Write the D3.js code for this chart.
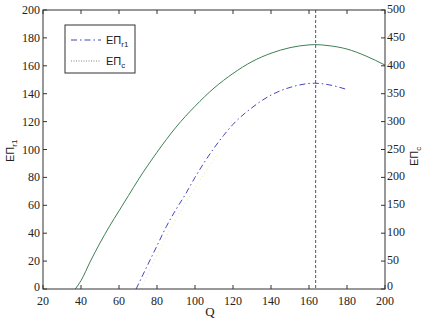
<!DOCTYPE html>
<html><head><meta charset="utf-8">
<script src="https://cdn.jsdelivr.net/npm/d3@7"></script>
<style>body{margin:0;background:#fff}</style>
</head><body>
<script>
const qC = [37,40,45,50,55,60,65,70,80,90,100,110,120,130,140,150,160,163,170,180,190,200];
const epC = [0,6,20,33,45,56,67,78,98,116,131,144,154.5,163,169,173,175,175.2,174.5,172,167,160.5];
const qR = [69,75,80,85,90,95,100,105,110,115,120,130,140,150,160,163,170,180];
const epR = [0,17,31,45,57,68,80,91,101,110,118,130,139,144.5,147.3,147.5,146.5,143];
const qY = [70,75,80,85,90,95,100,105,110];
const epY = [0,15,29,42,54,65,76,86,96];
const qStar = 163.5;
const xTicks = [20,40,60,80,100,120,140,160,180,200];
const yTicksL = [0,20,40,60,80,100,120,140,160,180,200];
const yTicksR = [0,50,100,150,200,250,300,350,400,450,500];

const W=425,H=319, L=43, R=385, T=10, B=289;
const svg=d3.select("body").append("svg").attr("width",W).attr("height",H);
const x=d3.scaleLinear().domain([20,200]).range([L,R]);
const y=d3.scaleLinear().domain([0,200]).range([B,T]);
const y2=d3.scaleLinear().domain([0,500]).range([B,T]);
const axc="#333";
const SERIF="Liberation Serif", SANS="Liberation Sans";

const g=svg.append("g");
g.append("path").datum(d3.zip(qY,epY)).attr("d",d3.line().x(d=>x(d[0])).y(d=>y(d[1]))).attr("fill","none")
 .attr("stroke","#f0ec90").attr("stroke-width",1).attr("stroke-dasharray","1,3").attr("transform","translate(3,0)");
g.append("path").datum(d3.zip(qC,epC)).attr("d",d3.line().curve(d3.curveMonotoneX).x(d=>x(d[0])).y(d=>y(d[1])))
 .attr("fill","none").attr("stroke","#3f7f55").attr("stroke-width",1);
g.append("path").datum(d3.zip(qR,epR)).attr("d",d3.line().curve(d3.curveMonotoneX).x(d=>x(d[0])).y(d=>y(d[1])))
 .attr("fill","none").attr("stroke","#4646b8").attr("stroke-width",1).attr("stroke-dasharray","6,3,1.5,3");
g.append("line").attr("x1",x(qStar)).attr("x2",x(qStar)).attr("y1",T).attr("y2",B)
 .attr("stroke","#555566").attr("stroke-width",1).attr("stroke-dasharray","3,2");

const ax=svg.append("g");
ax.append("rect").attr("x",L).attr("y",T).attr("width",R-L).attr("height",B-T).attr("fill","none").attr("stroke",axc).attr("stroke-width",1);
const ts=4;
ax.selectAll(".xb").data(xTicks).join("line").attr("x1",d=>x(d)).attr("x2",d=>x(d)).attr("y1",B).attr("y2",B-ts).attr("stroke",axc);
ax.selectAll(".xt").data(xTicks).join("line").attr("x1",d=>x(d)).attr("x2",d=>x(d)).attr("y1",T).attr("y2",T+ts).attr("stroke",axc);
ax.selectAll(".yl").data(yTicksL).join("line").attr("x1",L).attr("x2",L+ts).attr("y1",d=>y(d)).attr("y2",d=>y(d)).attr("stroke",axc);
ax.selectAll(".yr").data(yTicksR).join("line").attr("x1",R).attr("x2",R-ts).attr("y1",d=>y2(d)).attr("y2",d=>y2(d)).attr("stroke",axc);
ax.selectAll(".xl").data(xTicks).join("text").style("font-family",SERIF).style("font-size","12px")
 .attr("x",d=>x(d)).attr("y",B+16).attr("text-anchor","middle").attr("fill","#222").text(d=>d);
ax.selectAll(".yll").data(yTicksL).join("text").style("font-family",SERIF).style("font-size","12px")
 .attr("x",L-3).attr("y",d=>y(d)+(d===0?2:4)).attr("text-anchor","end").attr("fill","#222").text(d=>d);
ax.selectAll(".yrl").data(yTicksR).join("text").style("font-family",SERIF).style("font-size","12px")
 .attr("x",R+2).attr("y",d=>y2(d)+(d===0?1:3)).attr("text-anchor","start").attr("fill","#222").text(d=>d);
svg.append("text").style("font-family",SERIF).style("font-size","13px").attr("x",210).attr("y",316).attr("text-anchor","middle").attr("fill","#222").text("Q");

function epLabel(sel,sub){
  const t=sel.append("text").style("font-family",SANS).style("font-size","11px").attr("fill","#222");
  t.append("tspan").text("EΠ");
  t.append("tspan").style("font-size","8px").attr("dy",3).text(sub);
  return t;
}
epLabel(svg.append("g").attr("transform","translate(14,162) rotate(-90)"),"r1");
epLabel(svg.append("g").attr("transform","translate(418,166) rotate(-90)"),"c");

const lg=svg.append("g");
lg.append("rect").attr("x",65).attr("y",25).attr("width",70).attr("height",48).attr("fill","#fff").attr("stroke",axc);
lg.append("line").attr("x1",71).attr("x2",101).attr("y1",40).attr("y2",40).attr("stroke","#4646b8").attr("stroke-dasharray","6,3,1.5,3");
lg.append("line").attr("x1",71).attr("x2",101).attr("y1",61).attr("y2",61).attr("stroke","#7a8a80").attr("stroke-dasharray","1,1.5");
epLabel(lg.append("g").attr("transform","translate(106,44)"),"r1");
epLabel(lg.append("g").attr("transform","translate(106,65)"),"c");
</script>
</body></html>
